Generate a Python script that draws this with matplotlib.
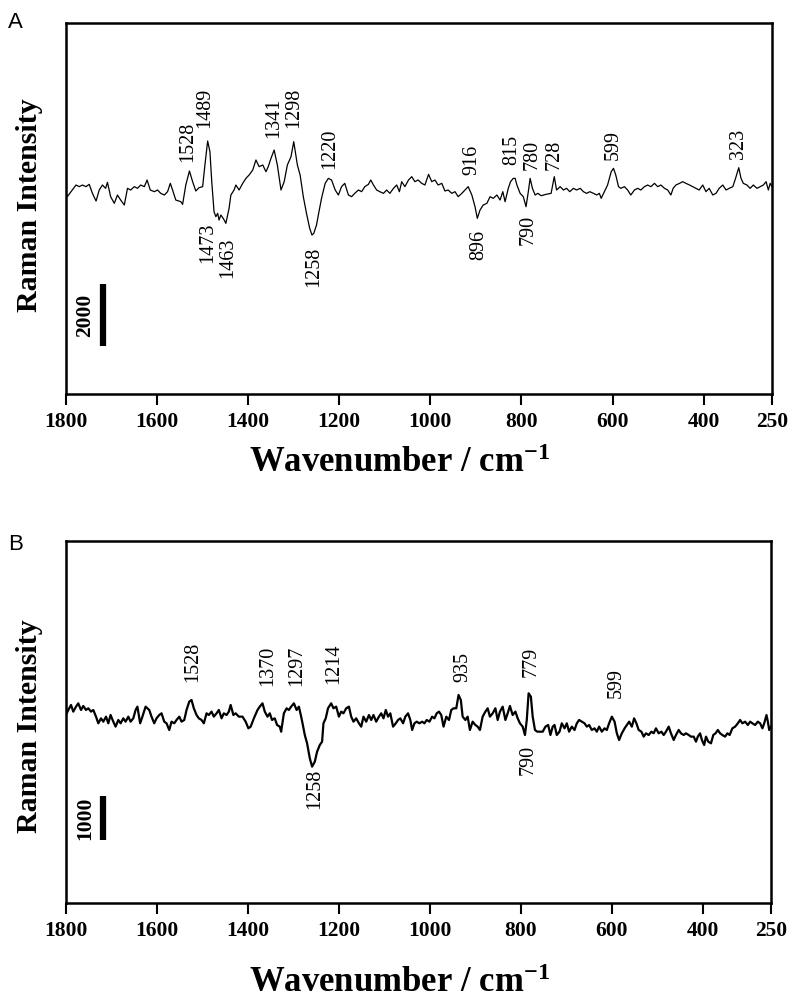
import matplotlib
matplotlib.use("Agg")
import matplotlib.pyplot as plt

plt.rcParams['font.family'] = ['Liberation Serif', 'DejaVu Serif']
plt.rcParams['mathtext.fontset'] = 'custom'
plt.rcParams['mathtext.bf'] = 'Liberation Serif:bold'
plt.rcParams['mathtext.rm'] = 'Liberation Serif'
plt.rcParams['mathtext.default'] = 'bf'

# ---------------- Panel A data ----------------
wn_a = [1800, 1797, 1789, 1778, 1771, 1764, 1756, 1749, 1742, 1734, 1727, 1720, 1713, 1709, 1702, 1694,
        1687, 1680, 1672, 1665, 1658, 1650, 1643, 1636, 1628, 1622, 1615, 1606, 1599, 1592, 1584, 1577,
        1571, 1566, 1559, 1548, 1544, 1537, 1529, 1522, 1515, 1508, 1500, 1495, 1489, 1484, 1480, 1475,
        1471, 1467, 1464, 1460, 1454, 1449, 1442, 1438, 1431, 1427, 1420, 1412, 1405, 1398, 1390, 1383,
        1376, 1368, 1361, 1356, 1350, 1343, 1336, 1328, 1321, 1314, 1306, 1300, 1292, 1286, 1279, 1272,
        1265, 1260, 1256, 1250, 1246, 1239, 1231, 1224, 1217, 1209, 1202, 1195, 1188, 1180, 1173, 1166,
        1158, 1151, 1144, 1136, 1131, 1125, 1118, 1111, 1103, 1096, 1089, 1081, 1074, 1068, 1063, 1056,
        1048, 1041, 1034, 1027, 1019, 1012, 1004, 997, 990, 983, 975, 968, 961, 953, 946, 939,
        931, 924, 917, 909, 902, 897, 891, 884, 876, 869, 862, 854, 847, 841, 836, 829,
        824, 818, 814, 810, 803, 796, 790, 785, 781, 776, 770, 764, 757, 746, 735, 728,
        723, 715, 708, 701, 694, 686, 679, 671, 664, 657, 650, 642, 635, 629, 625, 618,
        611, 603, 598, 593, 587, 582, 574, 567, 560, 552, 545, 538, 530, 523, 516, 508,
        501, 494, 486, 479, 472, 467, 461, 453, 446, 439, 431, 424, 417, 410, 402, 395,
        388, 380, 373, 366, 358, 351, 344, 336, 330, 323, 318, 313, 305, 298, 291, 283,
        276, 269, 263, 258, 254, 250]
int_a = [-100, -215, -54, 161, 108, 161, 108, 183, -108, -355, 0, 161, 54, 247, -215, -430,
         -161, -323, -484, 54, 0, 108, 54, 161, 108, 323, 0, -54, 0, -108, -161, -54,
         215, 0, -323, -376, -462, 161, 613, 269, -32, 75, 108, 806, 1580, 1236, 269, -699,
         -860, -753, -968, -806, -935, -1075, -591, -161, 0, 161, 0, 215, 376, 484, 645, 968,
         753, 806, 591, 753, 1021, 1290, 806, 0, 269, 806, 1075, 1559, 806, 484, -215, -753,
         -1236, -1451, -1398, -1129, -806, -269, 215, 376, 323, 0, -161, 108, 215, -161, -215, -108,
         0, -54, 108, 183, 323, 161, 0, -54, -108, 0, -108, 54, 161, -54, 269, 108,
         323, 430, 269, 323, 215, 161, 505, 269, 323, 161, 215, -32, 0, -108, -54, -215,
         -108, 0, 108, -161, -538, -914, -645, -484, -430, -215, -269, -161, -323, -54, -376, 54,
         269, 376, 376, 161, -108, -215, -538, -54, 376, 54, -161, -108, -183, -140, -108, 430,
         0, 108, 0, 54, -54, 54, 0, 54, -54, -108, -54, -108, -161, -108, -269, -54,
         161, 591, 699, 484, 108, 54, 108, 0, -161, 0, 54, 0, 108, 161, 108, 215,
         108, 161, 54, 0, -161, 54, 161, 215, 269, 215, 161, 108, 54, 0, 161, -54,
         54, -161, -108, 54, 161, 0, 54, 108, 376, 720, 376, 215, 161, 54, 161, 54,
         108, 161, 269, 0, 215, 108]

# ---------------- Panel B data ----------------
wn_b = [1800, 1795, 1789, 1784, 1778, 1773, 1767, 1762, 1756, 1751, 1745, 1740, 1734, 1729, 1723, 1718,
        1712, 1707, 1702, 1696, 1691, 1685, 1680, 1674, 1669, 1663, 1658, 1652, 1647, 1643, 1637, 1632,
        1625, 1617, 1612, 1606, 1601, 1595, 1590, 1584, 1579, 1573, 1568, 1562, 1557, 1551, 1546, 1540,
        1535, 1529, 1524, 1519, 1513, 1508, 1502, 1497, 1491, 1486, 1480, 1475, 1469, 1464, 1458, 1453,
        1447, 1442, 1438, 1432, 1427, 1420, 1412, 1405, 1399, 1394, 1387, 1379, 1374, 1368, 1363, 1357,
        1352, 1347, 1341, 1336, 1330, 1327, 1321, 1315, 1310, 1305, 1299, 1293, 1288, 1283, 1280, 1275,
        1270, 1264, 1259, 1253, 1248, 1242, 1237, 1234, 1229, 1224, 1217, 1212, 1206, 1200, 1195, 1190,
        1184, 1178, 1173, 1168, 1162, 1156, 1151, 1146, 1140, 1134, 1129, 1124, 1118, 1112, 1107, 1102,
        1097, 1092, 1087, 1081, 1075, 1070, 1065, 1059, 1054, 1048, 1043, 1039, 1034, 1029, 1023, 1017,
        1012, 1007, 1001, 995, 990, 985, 980, 975, 970, 964, 958, 953, 948, 942, 937, 932,
        928, 922, 917, 912, 906, 900, 895, 890, 884, 878, 873, 868, 862, 856, 851, 846,
        840, 834, 829, 824, 818, 812, 807, 802, 796, 791, 787, 783, 778, 774, 769, 764,
        759, 752, 746, 740, 735, 730, 726, 721, 715, 710, 704, 699, 694, 688, 682, 677,
        672, 666, 660, 655, 650, 644, 638, 633, 628, 622, 616, 611, 606, 600, 594, 589,
        584, 578, 572, 567, 562, 556, 551, 546, 541, 535, 530, 525, 519, 513, 508, 503,
        497, 491, 486, 481, 475, 470, 464, 459, 453, 448, 442, 437, 431, 426, 420, 415,
        411, 406, 402, 397, 393, 388, 382, 377, 372, 367, 362, 357, 351, 346, 341, 335,
        329, 323, 318, 313, 307, 301, 296, 291, 285, 279, 274, 269, 265, 260, 257, 254,
        250]
int_b = [-38, 75, 188, 38, 150, 225, 75, 165, 75, 113, 38, 75, -75, -225, -113, -188,
         -75, -225, -38, -188, -300, -150, -225, -113, -188, -75, -188, -113, 75, 150, -225, -75,
         150, 75, -75, -225, -113, -38, 0, -188, -225, -375, -188, -225, -150, -75, -188, -150,
         75, 263, 300, 113, -38, -113, -150, -225, 0, -38, 38, -75, 0, 75, -113, 0,
         -38, 38, 188, -38, 0, -75, -75, -188, -338, -300, -113, 75, 150, 225, 38, -75,
         0, -150, -113, -263, -300, -413, 0, 113, 75, 150, 225, 75, 150, -75, -225, -488,
         -675, -1013, -1200, -1088, -863, -713, -638, -225, -113, 113, 225, 113, 150, -75, 38, 0,
         113, 150, -75, -188, -113, -225, -300, -75, -188, -38, -150, -38, -188, -75, 0, -113,
         75, -75, 0, -300, -225, -150, -113, -225, -75, 0, -150, -375, -225, -188, -225, -188,
         -225, -150, -188, -75, -113, 0, 38, -38, -300, -75, -150, 75, 113, 113, 413, 300,
         -75, -150, -75, -375, -188, -263, -300, -375, -75, 38, 113, -75, 0, 113, -150, 38,
         150, -150, 0, 165, -38, 38, -113, -225, -300, -488, -150, 450, 375, -75, -375, -413,
         -413, -413, -300, -263, -488, -300, -263, -488, -413, -225, -338, -225, -413, -300, -375, -225,
         -150, -188, -225, -300, -263, -375, -338, -413, -300, -413, -338, -375, -225, -75, -188, -450,
         -600, -450, -338, -263, -188, -300, -113, -225, -375, -413, -525, -450, -488, -413, -450, -338,
         -450, -413, -488, -413, -300, -450, -600, -488, -375, -450, -488, -450, -488, -525, -525, -638,
         -525, -450, -600, -713, -525, -638, -675, -488, -450, -375, -450, -488, -525, -450, -488, -338,
         -300, -225, -150, -225, -188, -263, -188, -225, -263, -188, -225, -338, -225, -38, -188, -375,
         -300]

tick_vals = [1800, 1600, 1400, 1200, 1000, 800, 600, 400, 250]
tick_labels = ["1800", "1600", "1400", "1200", "1000", "800", "600", "400", "250"]

# peak labels: (text, x position, y position, side)
peaks_a = [("1528", 1532, 903, "up"), ("1489", 1495, 2000, "up"), ("1341", 1345, 1677, "up"),
           ("1298", 1301, 2000, "up"), ("1220", 1220, 677, "up"), ("916", 909, 484, "up"),
           ("815", 821, 806, "up"), ("780", 777, 645, "up"), ("728", 729, 645, "up"),
           ("599", 599, 968, "up"), ("323", 323, 1000, "up"),
           ("1473", 1488, -1064, "down"), ("1463", 1444, -1548, "down"), ("1258", 1257, -1838, "down"),
           ("896", 893, -1290, "down"), ("790", 786, -806, "down")]
peaks_b = [("1528", 1521, 705, "up"), ("1370", 1356, 615, "up"), ("1297", 1293, 615, "up"),
           ("1214", 1211, 660, "up"), ("935", 928, 705, "up"), ("779", 777, 818, "up"),
           ("599", 590, 345, "up"),
           ("1258", 1253, -1253, "down"), ("790", 783, -713, "down")]

fig = plt.figure(figsize=(8.0, 10.08), dpi=100)

def panel(rect, wn, inten, ylim, lw, peaks, bar, bar_text, letter, letter_y, ylab_y, xlab_y):
    ax = fig.add_axes(rect)
    ax.plot(wn, inten, color='black', lw=lw)
    ax.set_xlim(1800, 250)
    ax.set_ylim(*ylim)
    ax.set_xticks(tick_vals)
    ax.set_xticklabels(tick_labels, fontsize=15.5, fontweight='bold')
    ax.set_yticks([])
    ax.tick_params(axis='x', direction='out', length=8, width=1.5, pad=5)
    for s in ax.spines.values():
        s.set_linewidth(1.8)
    for txt, x, y, side in peaks:
        ax.text(x, y, txt, rotation=90, fontsize=14.5, ha='center',
                va='bottom' if side == 'up' else 'top')
    # scale bar
    ax.plot([1719, 1719], bar, color='black', lw=4.5, solid_capstyle='butt')
    ax.text(1757, (bar[0] + bar[1]) / 2, bar_text, rotation=90, fontsize=15.5,
            fontweight='bold', ha='center', va='center')
    fig.text(0.010, letter_y, letter, family='Liberation Sans', fontsize=16, ha='left', va='center')
    fig.text(0.037, ylab_y, 'Raman Intensity', rotation=90, fontsize=21.5, fontweight='bold',
             ha='center', va='center')
    fig.text(0.5, xlab_y, 'Wavenumber / cm$^{-1}$', fontsize=25, fontweight='bold',
             ha='center', va='center')
    return ax

panel([0.0825, 0.6091, 0.8825, 0.3681], wn_a, int_a, (-6579, 5386), 0.9, peaks_a,
      (-5031, -3032), "2000", "A", 1 - 23 / 1008, 1 - 205 / 1008, 1 - 464 / 1008)
panel([0.0825, 0.1042, 0.8813, 0.3591], wn_b, int_b, (-4268, 3878), 1.6, peaks_b,
      (-2860, -1860), "1000", "B", 1 - 545 / 1008, 1 - 726 / 1008, 1 - 984 / 1008)

fig.savefig('out.png', dpi=100)
